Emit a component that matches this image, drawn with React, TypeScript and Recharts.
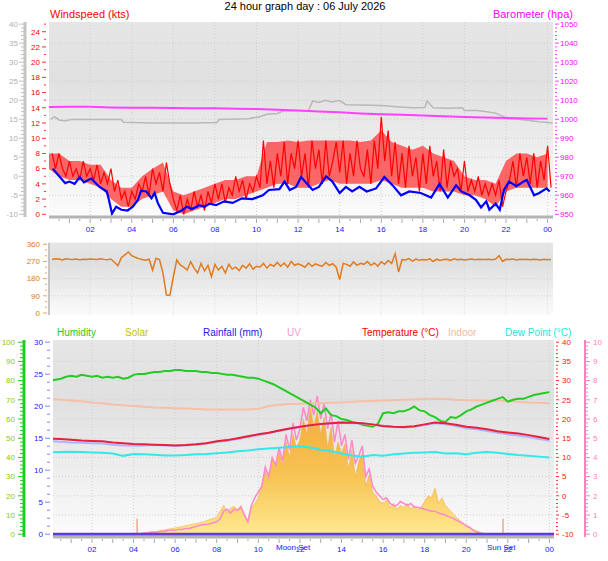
import React from "react";
import {
  ComposedChart,
  Line,
  Area,
  XAxis,
  YAxis,
  CartesianGrid,
  ReferenceArea,
  ReferenceLine,
} from "recharts";

// ---------- top panel: wind + pressure ----------
// gust every 10 min, starting 00:10
const gustKts = [
  8, 6, 8, 6, 5, 7,
  5, 6, 4.5, 7, 5, 6,
  4.5, 6.5, 4, 5.5, 4, 6,
  3, 4.5, 2, 3, 1, 3,
  2, 4, 3, 5, 2.5, 6,
  4, 5.5, 3, 6.8, 4, 2,
  0.5, 2.5, 0, 2, 0.5, 3,
  1, 2.5, 0.5, 3, 1.5, 4,
  2, 4, 1.5, 3.5, 2.5, 5,
  3, 4.5, 2, 4, 3, 5,
  3.5, 9.7, 4, 7, 3.5, 8,
  5, 9.5, 4, 8, 6, 9.7,
  5, 8, 3.5, 9.7, 6, 8.5,
  4, 9.7, 5, 7, 9.5, 5.5,
  9.7, 4, 8, 5, 9.7, 6,
  5, 8.5, 4, 9.7, 6, 12.8,
  7, 11, 5, 9.5, 4, 8,
  3.5, 9, 5, 7.5, 3, 8,
  4, 9, 5, 7, 3, 8.5,
  3.5, 7, 5, 6, 3, 7,
  3, 4.5, 3, 5, 2.5, 4,
  2.5, 4, 2.5, 4.5, 1, 3,
  4.5, 7, 3.5, 8, 5, 7.5,
  4, 8, 3.5, 7, 4.5, 9,
  3.5,
];

// spread of the gust readings, every 30 min from 00:00
const gustLowKts = [
  6, 5, 4.5, 4.5, 4, 3.5, 2, 1, 1, 2, 2.5, 3, 0.5, 0, 0.5, 1, 1.5, 2, 2, 2.5,
  3, 3.5, 4, 4, 3.5, 3.5, 4, 4.5, 4, 4, 4, 4, 4.5, 4, 3.5, 3.5, 3.5, 3, 3, 3,
  2.5, 2.5, 2, 1, 3, 3.5, 3.5, 3.5, 3.5,
];
const gustHighKts = [
  8, 8, 7, 7, 6.5, 6.5, 4.5, 3.5, 3.5, 5, 6, 6.8, 3, 2.5, 3, 3.5, 4, 4.5, 4.5, 5,
  5, 9.5, 9.5, 9.7, 9.5, 9.7, 9.7, 9.7, 9.7, 9.7, 9.5, 9.7, 11, 9.5, 9, 8.5, 9, 8, 7.5, 7,
  5, 4.5, 4.5, 4, 7, 8, 8, 7.5, 8,
];

const windAvgHours = [
  0.2, 0.45, 0.8, 1.0, 1.25, 1.5, 1.7, 2.05, 2.45, 2.8, 2.9, 3.05, 3.25, 3.5,
  3.8, 4.05, 4.3, 4.45, 4.7, 4.95, 5.1, 5.25, 5.5, 6.0, 6.4, 6.65, 6.9, 7.25,
  7.5, 7.75, 8.05, 8.45, 8.85, 9.3, 9.8, 10.3, 10.6, 11.1, 11.35, 11.6, 11.9,
  12.15, 12.4, 12.7, 13.0, 13.35, 13.65, 14.0, 14.3, 14.6, 14.95, 15.3, 15.75,
  16.15, 16.55, 16.95, 17.35, 17.9, 18.4, 18.8, 19.2, 19.6, 19.85, 20.25,
  20.55, 20.8, 21.05, 21.2, 21.5, 21.7, 21.9, 22.15, 22.5, 22.85, 23.0, 23.35,
  23.6, 23.95, 24.1,
];
const windAvgKts = [
  6.0, 5.2, 4.1, 4.3, 4.0, 4.9, 4.2, 4.7, 3.6, 3.0, 1.9, 0.1, 1.0, 0.6,
  0.5, 1.0, 1.9, 3.1, 3.0, 2.1, 2.8, 1.5, 0.2, 0.0, 0.5, 1.0, 0.7, 1.2,
  1.0, 1.4, 1.2, 1.7, 1.5, 2.1, 2.0, 2.5, 3.2, 3.3, 4.3, 3.2, 3.6,
  4.9, 4.1, 3.2, 3.6, 5.0, 4.3, 2.8, 3.6, 3.0, 3.6, 3.0, 3.4,
  4.9, 3.8, 2.5, 3.0, 2.8, 2.2, 4.0, 2.2, 3.8, 3.0, 2.5,
  1.9, 0.9, 1.7, 0.6, 1.4, 0.6, 3.2, 4.3, 3.7, 4.3, 4.5, 2.5,
  2.8, 3.4, 3.0,
];

// hourly, 00:00 .. 24:00
const baroHpa = [
  1006.4, 1006.5, 1006.5, 1006.2, 1006.0, 1006.0, 1005.9, 1005.8, 1005.7,
  1005.5, 1005.3, 1005.0, 1004.6, 1004.1, 1003.6, 1003.0, 1002.6, 1002.3,
  1002.0, 1001.6, 1001.2, 1000.9, 1000.6, 1000.4, 1000.3,
];

const grayHours = [
  0.1, 0.3, 0.5, 0.8, 1.1, 3.5, 3.6, 5.0, 7.0, 8.1, 8.2, 9.6, 10.1, 10.5, 11.0,
  11.3, 12.5, 12.7, 13.0, 13.3, 13.6, 14.0, 14.3, 15.0, 16.0, 16.9, 17.5, 18.1,
  18.2, 18.5, 19.3, 19.9, 20.0, 20.6, 21.0, 21.5, 21.9, 22.2, 22.7, 23.2, 23.6,
  24.25,
];
const grayValues = [
  15.0, 15.6, 14.8, 14.6, 14.9, 14.9, 14.2, 14.0, 14.0, 14.1, 14.9, 15.1, 15.6,
  16.3, 16.5, 17.2, 17.3, 19.8, 19.4, 20.0, 19.5, 19.9, 18.8, 18.7, 18.6, 18.2,
  18.0, 18.1, 19.8, 18.0, 17.9, 18.0, 17.3, 17.3, 17.0, 16.6, 15.6, 15.2, 14.9,
  14.6, 14.3, 14.0,
];

// ---------- middle panel: wind direction, every 10 min from 00:10 ----------
const windDirDeg = [
  280, 284, 283, 278, 284, 282,
  281, 283, 279, 282, 280, 283,
  282, 280, 284, 281, 279, 283,
  266, 248, 290, 305, 320, 300,
  292, 285, 280, 276, 282, 225,
  287, 280, 210, 94, 92, 190,
  278, 252, 240, 225, 269, 235,
  210, 260, 220, 250, 190, 255,
  225, 245, 210, 255, 230, 240,
  222, 250, 235, 258, 230, 245,
  240, 260, 235, 255, 245, 265,
  245, 262, 240, 270, 250, 258,
  250, 240, 262, 245, 258, 250,
  245, 265, 250, 258, 240, 175,
  260, 255, 245, 268, 250, 260,
  255, 270, 250, 262, 245, 268,
  255, 275, 260, 310, 215, 280,
  278, 285, 272, 283, 276, 280,
  278, 284, 270, 282, 275, 280,
  282, 276, 284, 279, 281, 278,
  280, 283, 279, 282, 281, 280,
  282, 279, 283, 300, 270, 281,
  280, 283, 278, 282, 280, 281,
  279, 282, 280, 278, 281, 279,
  280,
];
const compassLabels = ["N", "E", "S", "W", "N"];

// ---------- bottom panel ----------
// every 15 min from 00:00
const humidityPct = [
  80, 80.5, 81, 82, 82.5, 82, 83, 82.5, 82, 82.5, 81.5, 82, 81.5, 82, 81, 81.5,
  83, 83.5, 83.5, 84, 84.5, 84.5, 85, 85, 85.5, 85.5, 85, 85, 85, 84.5, 84.5, 84,
  84, 83.5, 83, 83, 82.5, 82, 81.5, 81.5, 81, 80, 79, 78, 76.5, 75, 73.5, 72,
  70.5, 69, 67.5, 66, 63, 65.5, 62, 61.5, 60, 59.5, 58.5, 58, 57, 56.5, 56, 57.5,
  63, 63.5, 63, 64, 64, 65, 66.5, 64.5, 64, 62, 61, 59, 58.5, 61, 60.5, 62,
  64, 65, 66.5, 67.5, 68.5, 69.5, 70.5, 71.4, 69, 70, 70.5, 70.5, 71.5, 72.5, 73, 73.5,
  74,
];
// every 30 min from 00:00
const temperatureC = [
  14.9, 14.8, 14.6, 14.4, 14.3, 14.2, 13.9, 13.7, 13.5, 13.4, 13.3, 13.2, 13.1,
  13.2, 13.4, 13.7, 14.2, 14.5, 15.0, 15.5, 16.0, 16.4, 17.0, 17.5, 18.0, 18.4,
  18.7, 18.9, 19.1, 19.0, 18.9, 18.6, 18.2, 18.0, 17.9, 18.1, 18.6, 19.1, 18.9,
  18.5, 18.0, 17.7, 17.3, 16.8, 16.5, 16.2, 15.8, 15.3, 14.8,
];
const feelsLikeC = [
  14.2, 14.1, 13.9, 13.8, 13.7, 13.6, 13.3, 13.1, 13.0, 13.1, 13.2, 13.1, 13.0,
  13.1, 13.3, 13.6, 14.0, 14.3, 14.8, 15.3, 15.8, 16.3, 16.9, 17.4, 17.9, 18.3,
  18.6, 18.8, 19.0, 18.9, 18.8, 18.5, 18.1, 17.9, 17.8, 18.0, 18.4, 18.9, 18.6,
  18.2, 17.6, 17.3, 16.9, 16.4, 16.0, 15.7, 15.3, 14.8, 14.3,
];
const indoorC = [
  25.2, 25.0, 24.8, 24.6, 24.3, 24.1, 23.8, 23.6, 23.4, 23.2, 23.0, 22.9, 22.8,
  22.7, 22.6, 22.5, 22.5, 22.5, 22.5, 22.5, 22.6, 23.4, 23.7, 23.9, 24.0, 24.1,
  24.1, 24.2, 24.3, 24.5, 24.6, 24.7, 24.8, 24.9, 25.0, 25.1, 25.2, 25.3, 25.2,
  25.0, 24.9, 24.8, 24.8, 24.8, 24.6, 24.5, 24.3, 24.2, 24.1,
];
const dewPointC = [
  11.3, 11.4, 11.5, 11.4, 11.3, 11.2, 11.0, 10.4, 10.9, 10.8, 10.7, 10.5, 10.5,
  10.6, 10.8, 10.9, 11.1, 11.3, 11.6, 11.8, 12.1, 12.3, 12.5, 12.7, 12.9, 12.6,
  12.0, 11.6, 11.0, 10.5, 10.2, 10.6, 10.4, 10.8, 11.0, 11.2, 11.3, 11.4, 11.0,
  11.1, 10.8, 11.2, 11.4, 11.2, 10.9, 10.6, 10.4, 10.2, 10.0,
];
// every 10 min from 04:00 to 21:00
const uvIndex = [
  0, 0, 0, 0.05, 0.05, 0.1,
  0.1, 0.1, 0.15, 0.15, 0.2, 0.2,
  0.2, 0.25, 0.25, 0.3, 0.3, 0.35,
  0.4, 0.45, 0.5, 0.5, 0.55, 0.6,
  0.65, 0.8, 1.2, 1.3, 1.1, 1.3,
  1.25, 1.4, 1.0, 0.65, 1.5, 1.9,
  2.2, 2.5, 3.5, 3.0, 4.0, 3.6,
  4.5, 3.8, 5.2, 4.4, 5.8, 4.9,
  5.5, 6.6, 5.9, 7.0, 6.2, 7.2,
  6.0, 6.8, 5.5, 6.3, 4.8, 5.9,
  4.6, 5.2, 3.9, 4.9, 3.7, 4.1,
  4.6, 3.0, 3.4, 2.5, 2.2, 2.0,
  1.8, 1.9, 1.6, 1.5, 1.5, 1.7,
  1.6, 1.5, 1.6, 1.4, 1.4, 1.35,
  1.3, 1.25, 1.2, 1.2, 1.1, 1.05,
  1.0, 0.9, 0.85, 0.75, 0.65, 0.55,
  0.45, 0.35, 0.2, 0.12, 0.05, 0,
  0,
];
const solarWm2 = [
  0, 0, 5, 8, 10, 12,
  14, 16, 20, 22, 26, 30,
  32, 36, 40, 44, 48, 52,
  55, 60, 64, 70, 76, 82,
  90, 120, 150, 110, 135, 145,
  125, 150, 95, 70, 140, 160,
  190, 260, 330, 280, 390, 350,
  430, 360, 480, 400, 520, 450,
  490, 600, 520, 660, 560, 640,
  520, 610, 450, 560, 400, 480,
  420, 470, 340, 440, 300, 380,
  420, 250, 310, 220, 200, 170,
  160, 180, 140, 160, 130, 150,
  140, 160, 130, 150, 125, 140,
  170, 200, 190, 240, 160, 190,
  150, 130, 110, 90, 75, 60,
  45, 35, 25, 18, 10, 5,
  0,
];
const rainHours = [0, 24.25];
const rainMm = [0, 0];
const sunMarkHours = [4.17, 21.77];

// ---------- helpers ----------
const FONT = '"Liberation Sans", Arial, Helvetica, sans-serif';

function range(a: number, b: number, step: number) {
  const out: number[] = [];
  for (let i = 0; a + i * step <= b + 1e-9; i++) out.push(+(a + i * step).toFixed(4));
  return out;
}
const isStep = (v: number, step: number) => {
  const q = v / step;
  return Math.abs(q - Math.round(q)) < 1e-6;
};
const byStep = (values: number[], start: number, step: number) =>
  values.map((v, i) => ({ t: start + i * step, v }));
const byTimes = (times: number[], values: number[]) =>
  values.map((v, i) => ({ t: times[i], v }));

const halfHours = range(0.5, 24, 0.5);
const evenHours = range(2, 24, 2);
const gustBand = gustLowKts.map((lo, i) => ({ t: i * 0.5, band: [lo, gustHighKts[i]] }));

type YTickCfg = {
  side: "left" | "right";
  tickColor: string;
  labelColor: string;
  labelEvery: number;
  shift: number;
  major: number;
  minor: number;
  gap: number;
  fontSize?: number;
  format?: (v: number) => string;
};

const yTick = (c: YTickCfg) => (props: any) => {
  const { x, y, payload } = props;
  const v = payload.value as number;
  const dir = c.side === "left" ? -1 : 1;
  const x0 = x + dir * c.shift;
  const major = isStep(v, c.labelEvery);
  const len = major ? c.major : c.minor;
  return (
    <g>
      {len > 0 && (
        <line x1={x0} x2={x0 + dir * len} y1={y} y2={y} stroke={c.tickColor} strokeWidth={1} />
      )}
      {major && (
        <text
          x={x0 + dir * c.gap}
          y={y}
          dy="0.35em"
          textAnchor={c.side === "left" ? "end" : "start"}
          fontSize={c.fontSize ?? 8}
          fill={c.labelColor}
        >
          {c.format ? c.format(v) : String(v)}
        </text>
      )}
    </g>
  );
};

const xTick = (labels: boolean) => (props: any) => {
  const { x, y, payload } = props;
  const h = payload.value as number;
  return (
    <g>
      <line x1={x} x2={x} y1={y + 2} y2={y + (isStep(h, 1) ? 6 : 4)} stroke="#a8a8a8" />
      {labels && isStep(h, 2) && (
        <text x={x} y={y + 12} dy="0.35em" textAnchor="middle" fontSize={8} fill="#1515ff">
          {String(h % 24).padStart(2, "0")}
        </text>
      )}
    </g>
  );
};

const bgStops = (
  <>
    <stop offset="0" stopColor="#e6e6e6" />
    <stop offset="0.3" stopColor="#e0e0e0" />
    <stop offset="1" stopColor="#fbfbfb" />
  </>
);

const lineProps = { dot: false, activeDot: false, isAnimationActive: false, type: "linear" as const };

// axis ids sort so that "a_" sits next to the plot
function WindPanel() {
  return (
    <ComposedChart width={608} height={240} margin={{ top: 22, right: 0, bottom: 3, left: 0 }}>
      <defs>
        <linearGradient id="bgWind" x1="0" y1="0" x2="0" y2="1">
          {bgStops}
        </linearGradient>
      </defs>
      <XAxis
        type="number"
        dataKey="t"
        domain={[0.02, 24.26]}
        allowDataOverflow
        ticks={halfHours}
        interval={0}
        height={20}
        tickSize={0}
        tickMargin={0}
        tickLine={false}
        tick={xTick(true)}
        axisLine={{ stroke: "#b4b4b4", strokeWidth: 3 }}
      />
      <YAxis
        yAxisId="a_kts"
        width={24}
        domain={[-0.355, 25.276]}
        ticks={range(0, 25, 1)}
        interval={0}
        tickSize={0}
        tickMargin={0}
        tickLine={false}
        axisLine={false}
        tick={yTick({ side: "left", tickColor: "#ff3030", labelColor: "#ff0000", labelEvery: 2, shift: 3, major: 4, minor: 2, gap: 6 })}
      />
      <YAxis
        yAxisId="b_gray"
        width={25}
        domain={[-10.71, 40.55]}
        ticks={range(-10, 40, 1)}
        interval={0}
        tickSize={0}
        tickMargin={0}
        tickLine={false}
        axisLine={{ stroke: "#c4c4c4", strokeWidth: 3 }}
        tick={yTick({ side: "left", tickColor: "#c0c0c0", labelColor: "#b0b0b0", labelEvery: 5, shift: 1, major: 5, minor: 3, gap: 6 })}
      />
      <YAxis
        yAxisId="c_baro"
        orientation="right"
        width={55}
        domain={[948.58, 1051.1]}
        ticks={range(950, 1050, 2)}
        interval={0}
        tickSize={0}
        tickMargin={0}
        tickLine={false}
        axisLine={false}
        tick={yTick({ side: "right", tickColor: "#ff40ff", labelColor: "#ff00ff", labelEvery: 10, shift: 2, major: 4, minor: 2, gap: 5 })}
      />
      <CartesianGrid
        yAxisId="b_gray"
        fill="url(#bgWind)"
        fillOpacity={1}
        verticalValues={evenHours}
        horizontalValues={range(-5, 35, 5)}
        stroke="#cfcfcf"
        strokeDasharray="1 2"
      />
      <ReferenceArea yAxisId="a_kts" fill="none" stroke="#c6c6c6" strokeWidth={2} />
      <Line {...lineProps} yAxisId="b_gray" data={byTimes(grayHours, grayValues)} dataKey="v" stroke="#b8b8b8" strokeWidth={1.5} />
      <Line {...lineProps} yAxisId="c_baro" data={byStep(baroHpa, 0, 1)} dataKey="v" stroke="#ff40ff" strokeWidth={2} />
      <Area
        yAxisId="a_kts"
        data={gustBand}
        dataKey="band"
        type="linear"
        stroke="none"
        fill="#ff2424"
        fillOpacity={0.68}
        dot={false}
        activeDot={false}
        isAnimationActive={false}
      />
      <Line {...lineProps} yAxisId="a_kts" data={byStep(gustKts, 1 / 6, 1 / 6)} dataKey="v" stroke="#ff0000" strokeWidth={1.2} />
      <Line {...lineProps} yAxisId="a_kts" data={byTimes(windAvgHours, windAvgKts)} dataKey="v" stroke="#0000ff" strokeWidth={2.2} />
    </ComposedChart>
  );
}

function DirectionPanel() {
  return (
    <ComposedChart width={608} height={100} margin={{ top: 12.7, right: 0, bottom: 15, left: 0 }}>
      <defs>
        <linearGradient id="bgDir" x1="0" y1="0" x2="0" y2="1">
          {bgStops}
        </linearGradient>
      </defs>
      <XAxis type="number" dataKey="t" domain={[0.02, 24.26]} allowDataOverflow hide />
      <YAxis
        yAxisId="a_dir"
        width={49}
        domain={[-10.5, 368.4]}
        ticks={range(0, 360, 30)}
        interval={0}
        tickSize={0}
        tickMargin={0}
        tickLine={false}
        axisLine={{ stroke: "#c4c4c4", strokeWidth: 2 }}
        tick={yTick({ side: "left", tickColor: "#f0a060", labelColor: "#e07820", labelEvery: 90, shift: 2, major: 4, minor: 2, gap: 7 })}
      />
      <YAxis
        yAxisId="b_compass"
        orientation="right"
        width={55}
        domain={[-10.5, 368.4]}
        ticks={[0, 90, 180, 270, 360]}
        interval={0}
        tickSize={0}
        tickMargin={0}
        tickLine={false}
        axisLine={false}
        tick={yTick({
          side: "right",
          tickColor: "#e07820",
          labelColor: "#e07820",
          labelEvery: 90,
          shift: 0,
          major: 0,
          minor: 0,
          gap: 4,
          fontSize: 14,
          format: (v) => compassLabels[Math.round(v / 90)],
        })}
      />
      <CartesianGrid
        yAxisId="a_dir"
        fill="url(#bgDir)"
        fillOpacity={1}
        verticalValues={evenHours}
        horizontalValues={[90, 180, 270]}
        stroke="#d4d4d4"
        strokeDasharray="1 2"
      />
      <ReferenceArea yAxisId="a_dir" fill="none" stroke="#c6c6c6" strokeWidth={2} />
      <Line {...lineProps} yAxisId="a_dir" data={byStep(windDirDeg, 1 / 6, 1 / 6)} dataKey="v" stroke="#e07b1e" strokeWidth={1.5} />
    </ComposedChart>
  );
}

function WeatherPanel() {
  return (
    <ComposedChart width={608} height={231} margin={{ top: 10, right: 0, bottom: 4, left: 0 }}>
      <defs>
        <linearGradient id="bgWeather" x1="0" y1="0" x2="0" y2="1">
          {bgStops}
        </linearGradient>
        <linearGradient id="solarFill" x1="0" y1="0" x2="0" y2="1">
          <stop offset="0" stopColor="#f4ab3a" />
          <stop offset="0.55" stopColor="#f7c455" />
          <stop offset="1" stopColor="#ffe98f" />
        </linearGradient>
      </defs>
      <XAxis
        type="number"
        dataKey="t"
        domain={[0.125, 24.22]}
        allowDataOverflow
        ticks={halfHours}
        interval={0}
        height={20}
        tickSize={0}
        tickMargin={0}
        tickLine={false}
        tick={xTick(true)}
        axisLine={{ stroke: "#b4b4b4", strokeWidth: 3 }}
      />
      <YAxis
        yAxisId="a_rain"
        width={29}
        domain={[-0.44, 30.34]}
        ticks={range(0, 30, 1.25)}
        interval={0}
        tickSize={0}
        tickMargin={0}
        tickLine={false}
        axisLine={false}
        tick={yTick({ side: "left", tickColor: "#8080ff", labelColor: "#2020ff", labelEvery: 5, shift: 3, major: 5, minor: 3, gap: 7 })}
      />
      <YAxis
        yAxisId="b_hum"
        width={24}
        domain={[-1.46, 101.15]}
        ticks={range(0, 100, 2)}
        interval={0}
        tickSize={0}
        tickMargin={0}
        tickLine={false}
        axisLine={{ stroke: "#22cc22", strokeWidth: 3 }}
        tick={yTick({ side: "left", tickColor: "#22cc22", labelColor: "#88cc00", labelEvery: 10, shift: 1, major: 5, minor: 3, gap: 8 })}
      />
      <YAxis
        yAxisId="c_temp"
        orientation="right"
        width={31}
        domain={[-10.73, 40.57]}
        ticks={range(-10, 40, 1)}
        interval={0}
        tickSize={0}
        tickMargin={0}
        tickLine={false}
        axisLine={false}
        tick={yTick({ side: "right", tickColor: "#ff3030", labelColor: "#ff1010", labelEvery: 5, shift: 2, major: 3, minor: 2, gap: 6 })}
      />
      <YAxis
        yAxisId="d_uv"
        orientation="right"
        width={23}
        domain={[-0.146, 10.115]}
        ticks={range(0, 10, 0.2)}
        interval={0}
        tickSize={0}
        tickMargin={0}
        tickLine={false}
        axisLine={{ stroke: "#ff80c0", strokeWidth: 2 }}
        tick={yTick({ side: "right", tickColor: "#ff80c0", labelColor: "#ff80c0", labelEvery: 1, shift: 1, major: 4, minor: 2, gap: 7 })}
      />
      <YAxis yAxisId="e_solar" hide domain={[-14.6, 1011.5]} />
      <CartesianGrid
        yAxisId="b_hum"
        fill="url(#bgWeather)"
        fillOpacity={1}
        verticalValues={evenHours}
        horizontalValues={range(10, 90, 10)}
        stroke="#d0d0d0"
        strokeDasharray="1 2"
      />
      <ReferenceArea yAxisId="b_hum" fill="none" stroke="#c6c6c6" strokeWidth={2} />
      <Area
        yAxisId="e_solar"
        data={byStep(solarWm2, 4, 1 / 6)}
        dataKey="v"
        type="linear"
        stroke="#f2b048"
        strokeWidth={0.6}
        fill="url(#solarFill)"
        fillOpacity={1}
        dot={false}
        activeDot={false}
        isAnimationActive={false}
      />
      {sunMarkHours.map((h) => (
        <ReferenceLine
          key={h}
          yAxisId="a_rain"
          segment={[{ x: h, y: 0 }, { x: h, y: 2.4 }]}
          stroke="#f0a888"
          strokeWidth={1.5}
        />
      ))}
      <Line {...lineProps} yAxisId="d_uv" data={byStep(uvIndex, 4, 1 / 6)} dataKey="v" stroke="#ff88c8" strokeWidth={1.5} />
      <Line {...lineProps} yAxisId="c_temp" data={byStep(indoorC, 0, 0.5)} dataKey="v" stroke="#f5c0a6" strokeWidth={2} />
      <Line {...lineProps} yAxisId="b_hum" data={byStep(humidityPct, 0, 0.25)} dataKey="v" stroke="#22cc22" strokeWidth={2} />
      <Line {...lineProps} yAxisId="c_temp" data={byStep(dewPointC, 0, 0.5)} dataKey="v" stroke="#33e8e8" strokeWidth={2} />
      <Line {...lineProps} yAxisId="c_temp" data={byStep(feelsLikeC, 0, 0.5)} dataKey="v" stroke="#b0b4ff" strokeWidth={2} />
      <Line {...lineProps} yAxisId="c_temp" data={byStep(temperatureC, 0, 0.5)} dataKey="v" stroke="#e8203c" strokeWidth={2} />
      <Line {...lineProps} yAxisId="a_rain" data={byTimes(rainHours, rainMm)} dataKey="v" stroke="#5b3fd8" strokeWidth={3} />
    </ComposedChart>
  );
}

const legendItems = [
  { label: "Humidity", color: "#22cc22", left: 57 },
  { label: "Solar", color: "#c8c000", left: 125 },
  { label: "Rainfall (mm)", color: "#2020e8", left: 203 },
  { label: "UV", color: "#f4a0cc", left: 287 },
  { label: "Temperature (°C)", color: "#ff0000", left: 362 },
  { label: "Indoor", color: "#f4b8a0", left: 448 },
  { label: "Dew Point (°C)", color: "#22e6e6", left: 505 },
];

const eventLabels = [
  { label: "Moon Set", left: 276 },
  { label: "Sun Set", left: 487 },
];

const abs = (left: number, top: number): React.CSSProperties => ({
  position: "absolute",
  left,
  top,
  whiteSpace: "nowrap",
});

export default function App() {
  return (
    <div
      style={{
        position: "absolute",
        left: 0,
        top: 0,
        width: 608,
        height: 561,
        background: "#ffffff",
        fontFamily: FONT,
        overflow: "hidden",
      }}
    >
      <div style={{ ...abs(0, 0), width: 610, textAlign: "center", fontSize: 11, lineHeight: "12px", color: "#000" }}>
        24 hour graph day : 06 July 2026
      </div>
      <div style={{ ...abs(50, 8), fontSize: 11, lineHeight: "13px", color: "#ff0000" }}>Windspeed (kts)</div>
      <div style={{ position: "absolute", right: 35, top: 8, fontSize: 11, lineHeight: "13px", color: "#ff00ff" }}>
        Barometer (hpa)
      </div>

      <div style={abs(0, 0)}>
        <WindPanel />
      </div>
      <div style={abs(0, 230)}>
        <DirectionPanel />
      </div>
      <div style={abs(0, 330)}>
        <WeatherPanel />
      </div>

      {legendItems.map((it) => (
        <div key={it.label} style={{ ...abs(it.left, 327), fontSize: 10, lineHeight: "12px", color: it.color }}>
          {it.label}
        </div>
      ))}
      {eventLabels.map((it) => (
        <div key={it.label} style={{ ...abs(it.left, 543), fontSize: 8, lineHeight: "10px", color: "#1515ff" }}>
          {it.label}
        </div>
      ))}
    </div>
  );
}
